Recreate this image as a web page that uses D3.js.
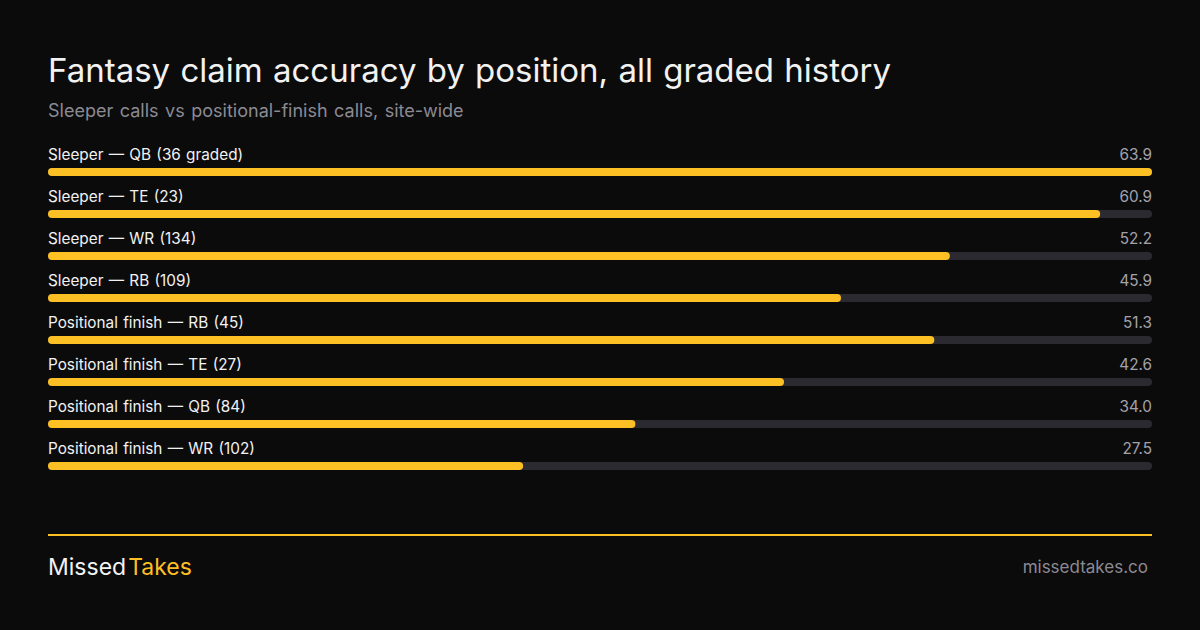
<!DOCTYPE html>
<html>
<head>
<meta charset="utf-8">
<script src="https://cdn.jsdelivr.net/npm/d3@7"></script>
<style>
  html, body { margin: 0; padding: 0; background: #0b0b0b; }
  svg { display: block; font-family: Inter, "Noto Sans", sans-serif; }
</style>
</head>
<body>
<svg id="chart" width="1200" height="630"></svg>
<script>
const labels = [
  "Sleeper — QB (36 graded)",
  "Sleeper — TE (23)",
  "Sleeper — WR (134)",
  "Sleeper — RB (109)",
  "Positional finish — RB (45)",
  "Positional finish — TE (27)",
  "Positional finish — QB (84)",
  "Positional finish — WR (102)"
];
const values = [63.9, 60.9, 52.2, 45.9, 51.3, 42.6, 34.0, 27.5];

const w = 1200, h = 630;
const padLeft = 48, padRight = 1152;
const rowsTop = 150, rowH = 42, barH = 8;

const svg = d3.select("#chart");

svg.append("rect").attr("width", w).attr("height", h).attr("fill", "#0b0b0b");

svg.append("text")
  .attr("x", padLeft).attr("y", 82)
  .attr("fill", "#f2f2f2")
  .attr("font-size", 33)
  .attr("word-spacing", 1)
  .text("Fantasy claim accuracy by position, all graded history");

svg.append("text")
  .attr("x", padLeft).attr("y", 117)
  .attr("fill", "#8b8a93")
  .attr("font-size", 18)
  .attr("word-spacing", 1.5)
  .text("Sleeper calls vs positional-finish calls, site-wide");

const xScale = d3.scaleLinear()
  .domain([0, d3.max(values)])
  .range([0, padRight - padLeft]);

const yScale = d3.scaleBand()
  .domain(d3.range(labels.length))
  .range([rowsTop, rowsTop + rowH * labels.length]);

const rows = svg.selectAll("g.row")
  .data(labels)
  .enter()
  .append("g")
  .attr("class", "row")
  .attr("transform", (d, i) => "translate(" + padLeft + "," + yScale(i) + ")");

rows.append("text")
  .attr("x", 0).attr("y", 10)
  .attr("fill", "#f2f2f2")
  .attr("font-size", 15.3)
  .attr("word-spacing", 1)
  .text((d) => d);

rows.append("text")
  .attr("x", padRight - padLeft).attr("y", 10)
  .attr("text-anchor", "end")
  .attr("fill", "#a3a2aa")
  .attr("font-size", 15.3)
  .text((d, i) => values[i].toFixed(1));

rows.append("rect")
  .attr("x", 0).attr("y", 18)
  .attr("width", padRight - padLeft)
  .attr("height", barH)
  .attr("rx", barH / 2)
  .attr("fill", "#2b2a31");

rows.append("rect")
  .attr("x", 0).attr("y", 18)
  .attr("width", (d, i) => xScale(values[i]))
  .attr("height", barH)
  .attr("rx", barH / 2)
  .attr("fill", "#fcbf24");

svg.append("rect")
  .attr("x", padLeft).attr("y", 534)
  .attr("width", padRight - padLeft).attr("height", 2)
  .attr("fill", "#fcbf24");

const brand = svg.append("text")
  .attr("x", padLeft).attr("y", 575)
  .attr("font-size", 23);
brand.append("tspan").attr("fill", "#f2f2f2").text("Missed");
brand.append("tspan").attr("dx", 2).attr("fill", "#fcbf24").text("Takes");

svg.append("text")
  .attr("x", 1148).attr("y", 573)
  .attr("text-anchor", "end")
  .attr("fill", "#8b8a93")
  .attr("font-size", 17)
  .text("missedtakes.co");
</script>
</body>
</html>
